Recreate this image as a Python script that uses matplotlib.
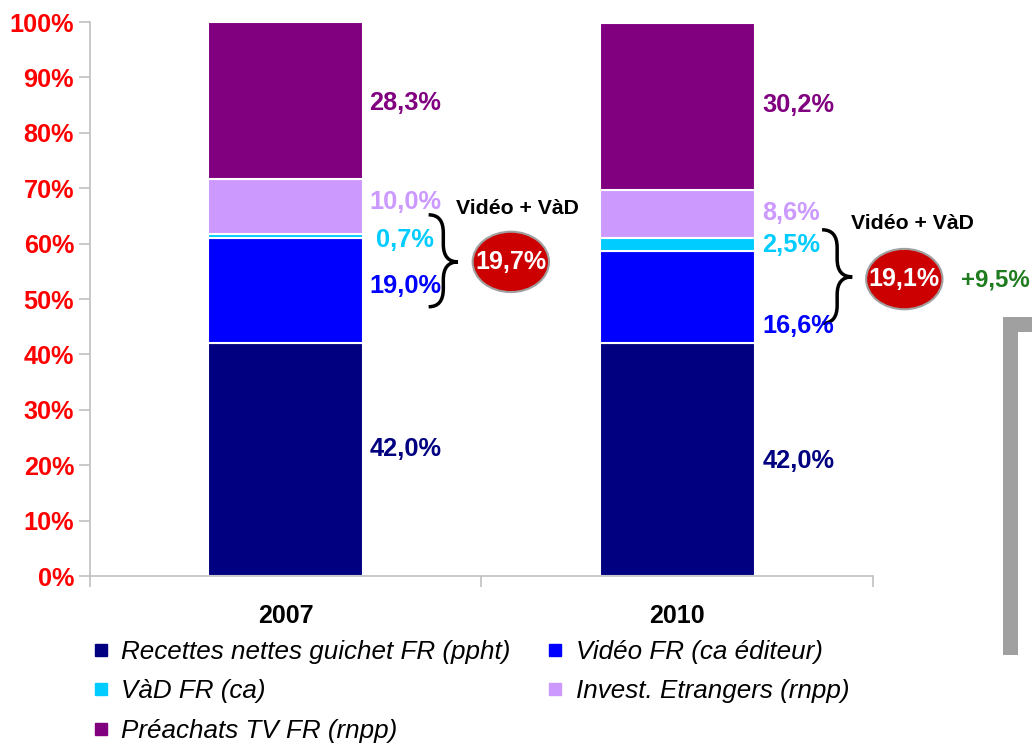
import matplotlib.pyplot as plt
from matplotlib.patches import Ellipse, Rectangle, PathPatch
from matplotlib.path import Path
from matplotlib.lines import Line2D

plt.rcParams['font.family'] = ['Liberation Sans', 'DejaVu Sans']

# Data
years = ['2007', '2010']
series = ['Recettes nettes guichet FR (ppht)', 'Vidéo FR (ca éditeur)', 'VàD FR (ca)',
          'Invest. Etrangers (rnpp)', 'Préachats TV FR (rnpp)']
colors = ['#000080', '#0000FF', '#00CCFF', '#CC99FF', '#800080']
values_2007 = [42.0, 19.0, 0.7, 10.0, 28.3]
values_2010 = [42.0, 16.6, 2.5, 8.6, 30.2]
growth_text = '+9,5%'

# label heights (percent axis)
label_y_2007 = [22.9, 52.3, 60.6, 67.5, 85.4]
label_y_2010 = [20.8, 45.1, 59.7, 65.5, 85.0]


def fmt(v):
    return f"{v:.1f}".replace('.', ',') + '%'


fig = plt.figure(figsize=(10.32, 7.44), dpi=100)
ax = fig.add_axes([0.0872, 0.2258, 0.7587, 0.7446])

all_values = [values_2007, values_2010]
bar_w = 0.396
for i, vals in enumerate(all_values):
    bottom = 0
    for j, v in enumerate(vals):
        ax.bar(i, v, bottom=bottom, width=bar_w, color=colors[j],
               edgecolor='white', linewidth=1.5, label=series[j])
        bottom += v

# value labels
for j, v in enumerate(values_2007):
    ax.text(0.305, label_y_2007[j], fmt(v), ha='center', va='center',
            color=colors[j], fontsize=18.3, fontweight='bold')
for j, v in enumerate(values_2010):
    ax.text(1.218, label_y_2010[j], fmt(v), ha='left', va='center',
            color=colors[j], fontsize=18.3, fontweight='bold')


def brace(x0, x1, ybot, ytop, ymid, d=3.2):
    xm = (x0 + x1) / 2
    verts = [(x0, ytop), (xm, ytop), (xm, ytop - d),
             (xm, ymid + d),
             (xm, ymid), (x1, ymid),
             (xm, ymid), (xm, ymid - d),
             (xm, ybot + d),
             (xm, ybot), (x0, ybot)]
    codes = [Path.MOVETO, Path.CURVE3, Path.CURVE3,
             Path.LINETO,
             Path.CURVE3, Path.CURVE3,
             Path.CURVE3, Path.CURVE3,
             Path.LINETO,
             Path.CURVE3, Path.CURVE3]
    ax.add_patch(PathPatch(Path(verts, codes), facecolor='none', edgecolor='black',
                           linewidth=2.5, clip_on=False))


# Vidéo + VàD groups
groups = [
    dict(x=0, brace=(0.365, 0.440, 48.6, 65.2, 56.7), ell=(0.575, 56.7), title=(0.593, 66.4),
         total=values_2007[1] + values_2007[2]),
    dict(x=1, brace=(0.370, 0.447, 45.6, 62.5, 54.0), ell=(0.58, 53.6), title=(0.600, 63.7),
         total=values_2010[1] + values_2010[2]),
]
for g in groups:
    x0, x1, yb, yt, ym = g['brace']
    brace(g['x'] + x0, g['x'] + x1, yb, yt, ym)
    ex, ey = g['ell']
    ax.add_patch(Ellipse((g['x'] + ex, ey), 0.195, 10.9, facecolor='#CC0000',
                         edgecolor='#A0A0A0', linewidth=1.5, clip_on=False))
    ax.text(g['x'] + ex, ey, fmt(g['total']), ha='center', va='center',
            color='white', fontsize=18, fontweight='bold')
    tx, ty = g['title']
    ax.text(g['x'] + tx, ty, 'Vidéo + VàD', ha='center', va='center',
            color='black', fontsize=15.3, fontweight='bold')

ax.text(1.812, 53.4, growth_text, ha='center', va='center', color='#1E7B1E',
        fontsize=17.3, fontweight='bold', clip_on=False)

# axes styling
ax.set_xlim(-0.5, 1.5)
ax.set_ylim(0, 100)
ax.set_yticks(range(0, 101, 10))
ax.set_yticklabels([f'{t}%' for t in range(0, 101, 10)])
ax.tick_params(axis='y', colors='#C0C0C0', labelcolor='red', labelsize=18.2,
               length=8, width=1.2, direction='out')
for lab in ax.get_yticklabels():
    lab.set_fontweight('bold')
ax.set_xticks([0, 1])
ax.set_xticklabels(years, fontsize=18, fontweight='bold')
ax.set_xticks([-0.5, 0.5, 1.5], minor=True)
ax.tick_params(axis='x', which='major', length=0, pad=20)
ax.tick_params(axis='x', which='minor', length=8, width=1.2, colors='#C0C0C0')
for s in ['top', 'right']:
    ax.spines[s].set_visible(False)
for s in ['left', 'bottom']:
    ax.spines[s].set_color('#C0C0C0')
    ax.spines[s].set_linewidth(1.2)

# legend (column-major ordering to read row by row)
order = [0, 2, 4, 1, 3]
leg_handles = [Line2D([], [], marker='s', linestyle='', markersize=8.5,
                      markerfacecolor=colors[k], markeredgecolor=colors[k]) for k in order]
leg_labels = [series[k] for k in order]
fig.legend(leg_handles, leg_labels, loc='upper left', bbox_to_anchor=(0.090, 0.140),
           ncol=2, frameon=False, handlelength=0.6, handletextpad=0.5,
           columnspacing=1.4, labelspacing=0.6, borderaxespad=0, borderpad=0,
           prop={'style': 'italic', 'size': 18.7})

# grey frame fragment on the right
fig.add_artist(Rectangle((0.9719, 0.1196), 0.01453, 0.4543, transform=fig.transFigure,
                         facecolor='#A0A0A0', edgecolor='none'))
fig.add_artist(Rectangle((0.9719, 0.5538), 0.0281, 0.0202, transform=fig.transFigure,
                         facecolor='#A0A0A0', edgecolor='none'))

fig.savefig('out.png', dpi=100)
